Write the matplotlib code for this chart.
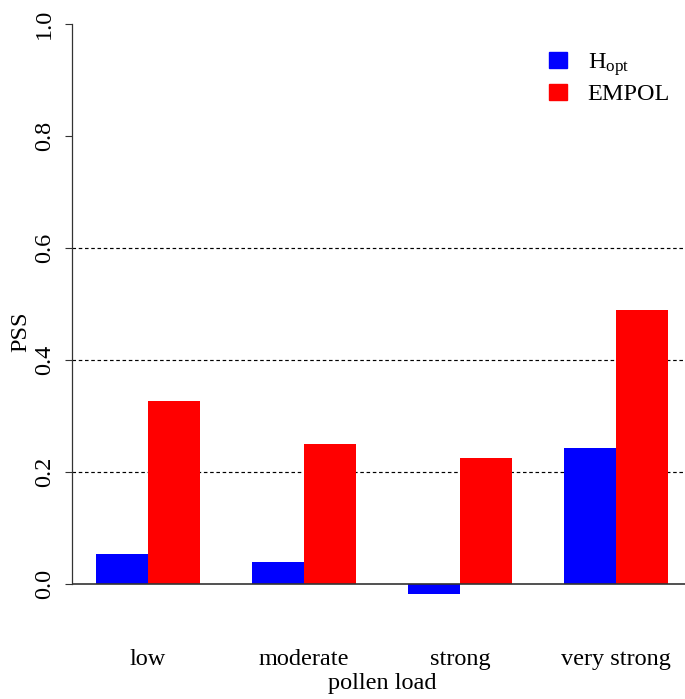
import numpy as np
import matplotlib
matplotlib.use("Agg")
import matplotlib.pyplot as plt
from matplotlib.patches import Patch

# data
categories = ["low", "moderate", "strong", "very strong"]
hopt = [0.054, 0.040, -0.017, 0.243]
empol = [0.327, 0.250, 0.225, 0.489]
series_names = [r"H$_{\mathrm{opt}}$", "EMPOL"]
yticks = [0.0, 0.2, 0.4, 0.6, 0.8, 1.0]

plt.rcParams["font.family"] = ["Liberation Serif", "DejaVu Serif"]
plt.rcParams["mathtext.fontset"] = "custom"
plt.rcParams["mathtext.rm"] = "Liberation Serif"
plt.rcParams["mathtext.it"] = "Liberation Serif:italic"
plt.rcParams["font.size"] = 17.5

W, H = 685, 699
fig = plt.figure(figsize=(W / 100, H / 100), dpi=100)
ax = fig.add_axes([72 / W, (H - 606) / H, (W - 72) / W, 604 / H])

# R style barplot, space=c(0,1)
left = np.arange(len(categories)) * 3 + 1
ax.bar(left, hopt, width=1, align="edge", color="#0000ff", zorder=2)
ax.bar(left + 1, empol, width=1, align="edge", color="#ff0000", zorder=2)

for g in [0.2, 0.4, 0.6]:
    ax.axhline(g, color="black", lw=0.85, ls=(0, (3, 2.3)), zorder=1)
ax.axhline(0, color="#333333", lw=1.2, zorder=3)

ax.set_xlim(0.538, 12.327)
ax.set_ylim(-0.039, 1.039)

for s in ["top", "right", "bottom"]:
    ax.spines[s].set_visible(False)
ax.spines["left"].set_bounds(0, 1)
ax.spines["left"].set_color("#333333")
ax.spines["left"].set_linewidth(0.9)

ax.set_yticks(yticks)
ax.set_yticklabels([f"{t:.1f}" for t in yticks], rotation=90, va="center")
ax.tick_params(axis="y", length=5, width=0.8, pad=7, color="#333333")

ax.set_xticks(left + 1)
ax.set_xticklabels(categories)
ax.tick_params(axis="x", length=0, pad=31)

fig.text(382 / W, 1 - 684 / H, "pollen load", ha="center", va="center")
fig.text(21 / W, 1 - 332 / H, "PSS", ha="center", va="center", rotation=90)

handles = [Patch(color="#0000ff"), Patch(color="#ff0000")]
ax.legend(handles, series_names, loc="upper left",
          bbox_to_anchor=(549 / W, 1 - 51 / H), bbox_transform=fig.transFigure,
          frameon=False, borderpad=0, borderaxespad=0,
          handlelength=0.74, handleheight=0.62, handletextpad=0.85,
          labelspacing=0.25)

fig.savefig("out.png", dpi=100)
